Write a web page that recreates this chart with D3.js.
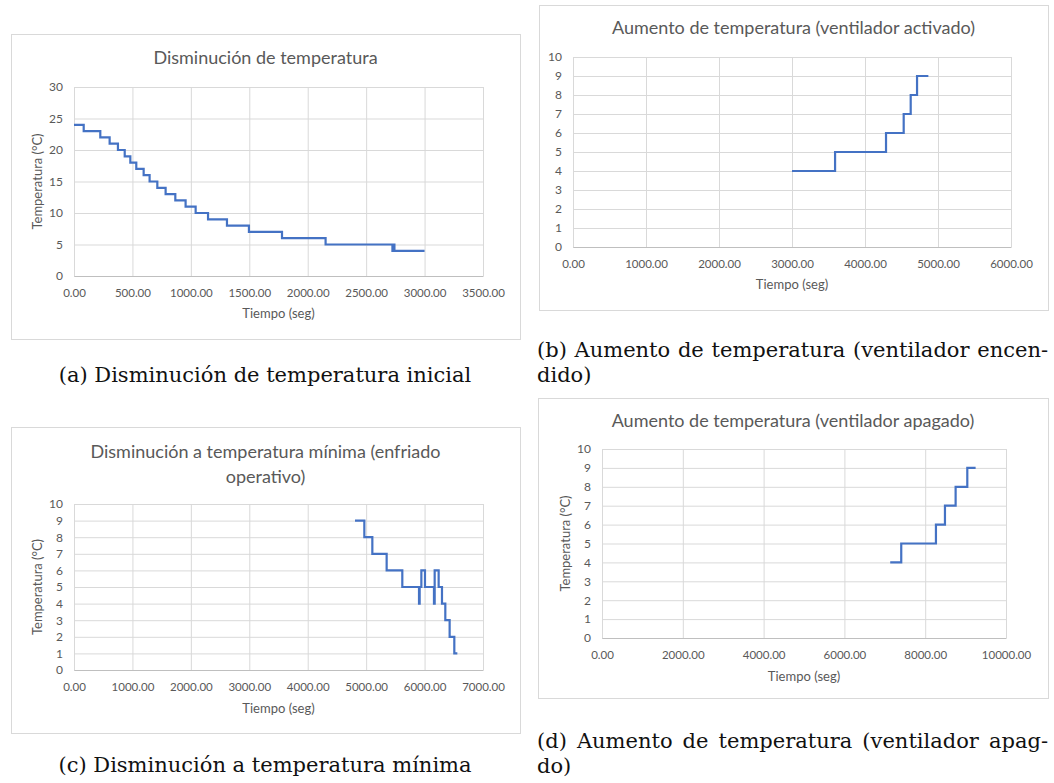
<!DOCTYPE html>
<html>
<head>
<meta charset="utf-8">
<script src="https://cdn.jsdelivr.net/npm/d3@7/dist/d3.min.js"></script>
<style>
  body { margin: 0; background: #fff; }
</style>
</head>
<body>
<div class="container"></div>
<script>
// (a) initial cooldown
const timeA = [0, 83, 225, 305, 376, 434, 482, 533, 596, 647, 713, 784, 867, 955, 1041, 1147, 1309, 1497, 1780, 2153, 2725, 2733, 2742, 3000];
const tempA = [24, 23, 22, 21, 20, 19, 18, 17, 16, 15, 14, 13, 12, 11, 10, 9, 8, 7, 6, 5, 4, 5, 4, 4];
const xTicksA = [0, 500, 1000, 1500, 2000, 2500, 3000, 3500];
const yTicksA = [0, 5, 10, 15, 20, 25, 30];

// (b) warm-up, fan on
const timeB = [3000, 3590, 4288, 4530, 4626, 4713, 4868];
const tempB = [4, 5, 6, 7, 8, 9, 9];
const xTicksB = [0, 1000, 2000, 3000, 4000, 5000, 6000];

// (c) cooldown to minimum
const timeC = [4809, 4969, 5106, 5351, 5619, 5905, 5916, 5945, 6007, 6161, 6173, 6241, 6298, 6355, 6429, 6509, 6561];
const tempC = [9, 8, 7, 6, 5, 4, 5, 6, 5, 4, 6, 5, 4, 3, 2, 1, 1];
const xTicksC = [0, 1000, 2000, 3000, 4000, 5000, 6000, 7000];

// (d) warm-up, fan off
const timeD = [7134, 7407, 8266, 8489, 8753, 9042, 9248];
const tempD = [4, 5, 6, 7, 8, 9, 9];
const xTicksD = [0, 2000, 4000, 6000, 8000, 10000];

const yTicks10 = [0, 1, 2, 3, 4, 5, 6, 7, 8, 9, 10];

const width = 1054;
const height = 783;
const textColor = '#595959';
const gridColor = '#d9d9d9';
const lineColor = '#4472c4';
const chartFont = 'Lato, "Open Sans", sans-serif';
const captionFont = '"DejaVu Serif", "Liberation Serif", serif';

const svg = d3.select('.container')
  .append('svg')
  .attr('width', width)
  .attr('height', height);

const panels = [
  { box: [11, 34, 520, 339], left: 74, right: 483, top: 87, bottom: 276,
    title: ['Disminución de temperatura'], titleY: 58, xTitleY: 313, yTitleX: 37,
    time: timeA, temp: tempA, xTicks: xTicksA, yTicks: yTicksA },
  { box: [539, 5, 1048, 310], left: 573, right: 1011, top: 57, bottom: 247,
    title: ['Aumento de temperatura (ventilador activado)'], titleY: 28, xTitleY: 284, yTitleX: null,
    time: timeB, temp: tempB, xTicks: xTicksB, yTicks: yTicks10 },
  { box: [11, 427, 520, 733], left: 74, right: 483, top: 504, bottom: 670,
    title: ['Disminución a temperatura mínima (enfriado', 'operativo)'], titleY: 452, xTitleY: 708, yTitleX: 37,
    time: timeC, temp: tempC, xTicks: xTicksC, yTicks: yTicks10 },
  { box: [538, 398, 1048, 698], left: 602, right: 1006, top: 449, bottom: 638,
    title: ['Aumento de temperatura (ventilador apagado)'], titleY: 421, xTitleY: 676, yTitleX: 565,
    time: timeD, temp: tempD, xTicks: xTicksD, yTicks: yTicks10 }
];

panels.forEach(p => {
  const g = svg.append('g');

  // panel frame
  g.append('rect')
    .attr('x', p.box[0] + 0.5)
    .attr('y', p.box[1] + 0.5)
    .attr('width', p.box[2] - p.box[0])
    .attr('height', p.box[3] - p.box[1])
    .attr('fill', '#fff')
    .attr('stroke', gridColor);

  const xScale = d3.scaleLinear()
    .domain([p.xTicks[0], p.xTicks[p.xTicks.length - 1]])
    .range([p.left, p.right]);
  const yScale = d3.scaleLinear()
    .domain([p.yTicks[0], p.yTicks[p.yTicks.length - 1]])
    .range([p.bottom, p.top]);

  // horizontal grid + y labels
  const yAxis = g.append('g')
    .attr('transform', `translate(${p.left}, 0)`)
    .call(d3.axisLeft(yScale)
      .tickValues(p.yTicks)
      .tickSize(-(p.right - p.left))
      .tickPadding(11));
  yAxis.select('.domain').remove();
  yAxis.selectAll('line').attr('stroke', gridColor);
  yAxis.selectAll('text')
    .attr('fill', textColor)
    .attr('font-family', chartFont)
    .attr('font-size', 12);

  // vertical grid + x labels
  const xAxis = g.append('g')
    .attr('transform', `translate(0, ${p.bottom})`)
    .call(d3.axisBottom(xScale)
      .tickValues(p.xTicks)
      .tickSize(-(p.bottom - p.top))
      .tickSizeOuter(0)
      .tickPadding(13)
      .tickFormat(d3.format('.2f')));
  xAxis.select('.domain').attr('stroke', '#bfbfbf');
  xAxis.selectAll('line').attr('stroke', gridColor);
  xAxis.selectAll('text')
    .attr('fill', textColor)
    .attr('font-family', chartFont)
    .attr('font-size', 11.5);

  // step line
  const pts = p.time.map((t, i) => [t, p.temp[i]]);
  g.append('path')
    .datum(pts)
    .attr('fill', 'none')
    .attr('stroke', lineColor)
    .attr('stroke-width', 2.2)
    .attr('d', d3.line()
      .x(d => xScale(d[0]))
      .y(d => yScale(d[1]))
      .curve(d3.curveStepAfter));

  // chart title
  const cx = (p.box[0] + p.box[2]) / 2;
  p.title.forEach((t, i) => {
    g.append('text')
      .attr('x', cx)
      .attr('y', p.titleY + i * 25)
      .attr('dy', '0.35em')
      .attr('text-anchor', 'middle')
      .attr('fill', textColor)
      .attr('font-family', chartFont)
      .attr('font-size', 18)
      .text(t);
  });

  // axis titles
  g.append('text')
    .attr('x', (p.left + p.right) / 2)
    .attr('y', p.xTitleY)
    .attr('dy', '0.35em')
    .attr('text-anchor', 'middle')
    .attr('fill', textColor)
    .attr('font-family', chartFont)
    .attr('font-size', 13)
    .text('Tiempo (seg)');

  if (p.yTitleX !== null) {
    g.append('text')
      .attr('transform', `translate(${p.yTitleX}, ${(p.top + p.bottom) / 2}) rotate(-90)`)
      .attr('dy', '0.35em')
      .attr('text-anchor', 'middle')
      .attr('fill', textColor)
      .attr('font-family', chartFont)
      .attr('font-size', 13)
      .text('Temperatura (°C)');
  }
});

// sub-figure captions
function caption(x, y, str, anchor, justifyTo) {
  const t = svg.append('text')
    .attr('x', x)
    .attr('y', y)
    .attr('text-anchor', anchor)
    .attr('fill', '#111')
    .attr('font-family', captionFont)
    .attr('font-size', 21)
    .text(str);
  if (justifyTo) {
    // stretch inter-word spaces like a justified LaTeX line
    const natural = t.node().getComputedTextLength();
    const gaps = str.split(' ').length - 1;
    t.attr('word-spacing', Math.max(0, (justifyTo - natural) / gaps));
  }
}

caption(265, 382, '(a) Disminución de temperatura inicial', 'middle');
caption(537, 357, '(b) Aumento de temperatura (ventilador encen-', 'start', 511);
caption(537, 382, 'dido)', 'start');
caption(265, 772, '(c) Disminución a temperatura mínima', 'middle');
caption(537, 748, '(d) Aumento de temperatura (ventilador apag-', 'start', 511);
caption(537, 773, 'do)', 'start');
</script>
</body>
</html>
